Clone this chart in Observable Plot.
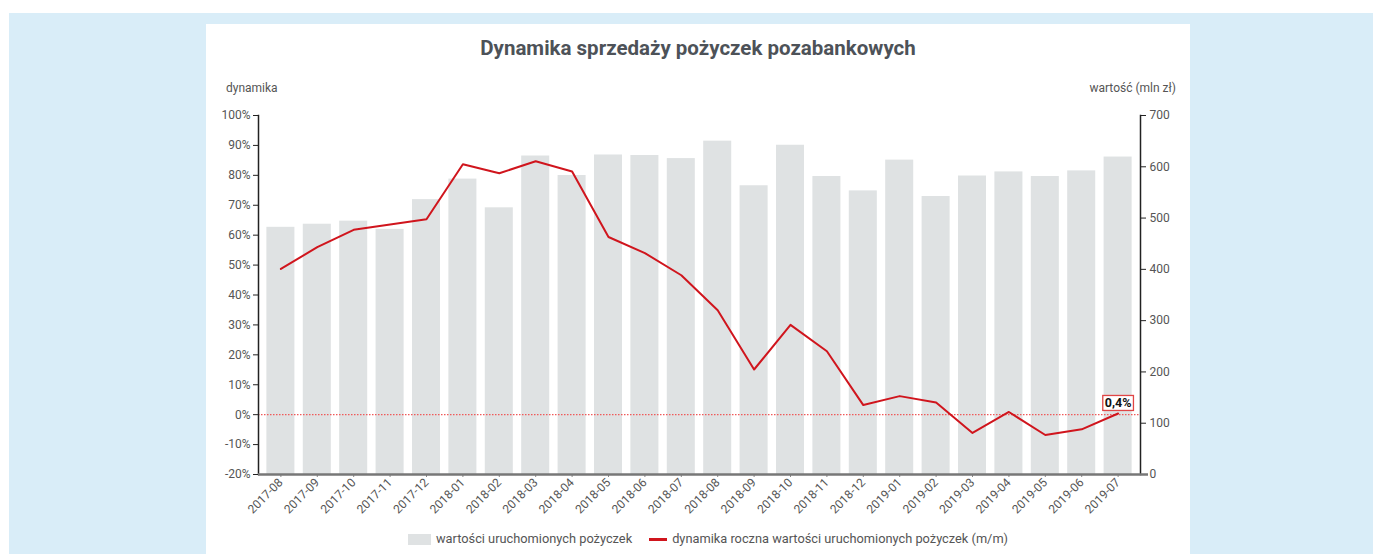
<!DOCTYPE html>
<html><head><meta charset="utf-8">
<script src="https://cdn.jsdelivr.net/npm/d3@7"></script>
<script src="https://cdn.jsdelivr.net/npm/@observablehq/plot@0.6"></script>
<style>
html,body{margin:0;padding:0;background:#fff;font-family:Roboto,sans-serif;}
#bg{position:absolute;left:9px;top:13px;width:1364px;height:541px;background:#d9edf8;}
#panel{position:absolute;left:206px;top:24px;width:984px;height:530px;background:#fff;overflow:hidden;}
#title{position:absolute;left:0;width:984px;top:12px;text-align:center;font-size:20.5px;font-weight:bold;color:#4d5258;line-height:24px;}
.axlab{position:absolute;top:57px;font-size:12px;color:#555;line-height:14px;}
#chart{position:absolute;left:0;top:76px;}
#legend{position:absolute;left:10px;width:984px;top:507px;display:flex;justify-content:center;align-items:center;font-size:12.8px;color:#555;line-height:16px;}
.sw-bar{display:inline-block;width:23px;height:11px;background:#dfe2e3;margin-right:5px;}
.sw-line{display:inline-block;width:18px;height:3px;background:#d0151d;margin-left:17px;margin-right:5px;}
</style></head>
<body>
<div id="bg"></div>
<div id="panel">
  <div id="title">Dynamika sprzedaży pożyczek pozabankowych</div>
  <div class="axlab" style="left:20px">dynamika</div>
  <div class="axlab" style="right:14px">wartość (mln zł)</div>
  <div id="chart"></div>
  <div id="legend"><span class="sw-bar"></span>wartości uruchomionych pożyczek<span class="sw-line"></span>dynamika roczna wartości uruchomionych pożyczek (m/m)</div>
</div>
<script>
const months = ["2017-08","2017-09","2017-10","2017-11","2017-12","2018-01","2018-02","2018-03","2018-04","2018-05","2018-06","2018-07","2018-08","2018-09","2018-10","2018-11","2018-12","2019-01","2019-02","2019-03","2019-04","2019-05","2019-06","2019-07"];
const values = [482,488,494,478,536,576,520,621,583,623,622,616,650,563,642,581,553,613,542,582,590,581,592,619];
const dynamics = [48.7,56.0,61.8,63.6,65.3,83.7,80.7,84.7,81.3,59.4,54.0,46.6,34.9,15.1,30.0,21.2,3.2,6.2,4.1,-6.1,0.9,-6.8,-4.9,0.4];
const leftTicks = [-20,-10,0,10,20,30,40,50,60,70,80,90,100];
const rightTicks = [0,100,200,300,400,500,600,700];

const yMin = -20, yMax = 100, vMax = 700;
const toLeft = v => yMin + v * (yMax - yMin) / vMax;
const fromLeft = p => Math.round((p - yMin) * vMax / (yMax - yMin));
const fmtPct = d => d3.format(".1f")(d).replace(".", ",") + "%";

const data = months.map((m, i) => ({month: m, value: values[i], dyn: dynamics[i]}));
const last = [data[data.length - 1]];

const chart = Plot.plot({
  width: 984,
  height: 430,
  marginLeft: 52,
  marginRight: 50,
  marginTop: 15,
  marginBottom: 56,
  style: {fontFamily: "Roboto, sans-serif", fontSize: "12px", color: "#555", background: "transparent"},
  x: {domain: months, padding: 0.23, round: false, label: null},
  y: {domain: [yMin, yMax], label: null},
  marks: [
    Plot.barY(data, {x: "month", y1: yMin, y2: d => toLeft(d.value), fill: "#dfe2e3", inset: 0}),
    Plot.ruleY([0], {stroke: "#f05a5a", strokeDasharray: "1.5,1.5", strokeWidth: 1.3}),
    Plot.lineY(data, {x: "month", y: "dyn", stroke: "#d0151d", strokeWidth: 2}),
    Plot.text(last, {x: "month", y: "dyn", text: d => fmtPct(d.dyn), dy: -10, fontWeight: "bold", fontSize: 12.5, fill: "#111"}),
    Plot.axisY({anchor: "left", ticks: leftTicks, tickFormat: d => d + "%", tickSize: 5, tickPadding: 3, stroke: "#222", label: null}),
    Plot.axisY(rightTicks.map(toLeft), {anchor: "right", tickFormat: d => fromLeft(d), tickSize: 5, tickPadding: 4, stroke: "#222", label: null}),
    Plot.axisX({tickRotate: -45, tickSize: 3, tickPadding: 3, fontSize: 12, stroke: "#888", label: null}),
    Plot.frame({anchor: "left", stroke: "#222", strokeWidth: 1.5}),
    Plot.frame({anchor: "right", stroke: "#222", strokeWidth: 1.5}),
    Plot.ruleY([yMin], {stroke: "#777", strokeWidth: 2.5, insetRight: -8})
  ]
});
document.getElementById("chart").appendChild(chart);

// box around the last-value annotation
const label = fmtPct(last[0].dyn);
chart.querySelectorAll("text").forEach(t => {
  if (t.textContent === label) {
    const b = t.getBBox();
    const ns = "http://www.w3.org/2000/svg";
    const r = document.createElementNS(ns, "rect");
    r.setAttribute("x", b.x - 2); r.setAttribute("y", b.y);
    r.setAttribute("width", b.width + 4); r.setAttribute("height", b.height);
    r.setAttribute("fill", "#fff"); r.setAttribute("stroke", "#e04545"); r.setAttribute("stroke-width", 1.3);
    const tr = t.getAttribute("transform");
    if (tr) r.setAttribute("transform", tr);
    t.parentNode.insertBefore(r, t);
  }
});
</script>
</body></html>
